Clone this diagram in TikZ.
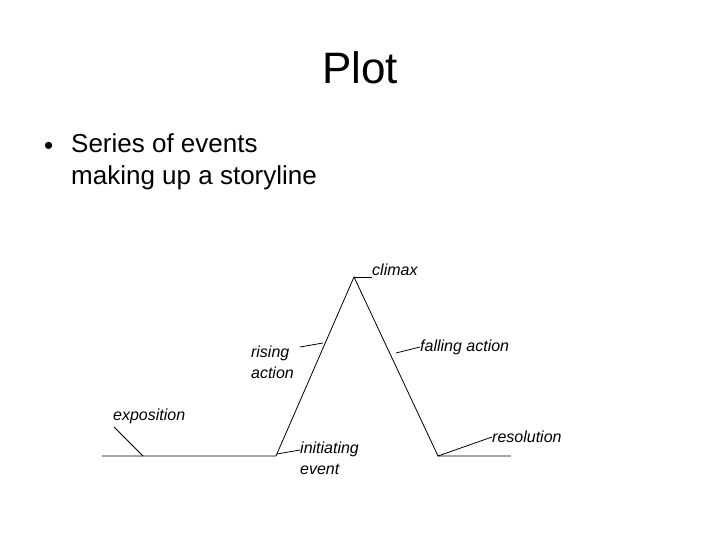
\documentclass[tikz,border=0pt]{standalone}
\usepackage{fontspec}
\setmainfont{Liberation Sans}
\begin{document}
\begin{tikzpicture}[x=1pt,y=-1pt,
  lbl/.style={font=\fontsize{16}{21}\selectfont\itshape,inner sep=0pt},
  ln/.style={line width=0.8pt}]
\useasboundingbox (0,0) rectangle (720,540);
\node[font=\fontsize{44}{50}\selectfont] (title) at (360,68) {Plot};
\node[anchor=west,font=\fontsize{26}{32}\selectfont,inner sep=0pt] (bul) at (44,148) {•};
\node[anchor=north west,align=left,font=\fontsize{26}{32}\selectfont,inner sep=0pt] (txt) at (71,133) {Series of events\\making up a storyline};
\coordinate (a) at (102,456);
\coordinate (b) at (276,456);
\coordinate (c) at (354,277);
\coordinate (d) at (438,456);
\coordinate (e) at (511,456);
\draw[ln] (a) -- (b) -- (c) -- (d) -- (e);
\node[lbl,anchor=west] (climax) at (372,270) {climax};
\draw[ln] (c) -- (climax.west |- c);
\node[lbl,anchor=west] (expo) at (113,416) {exposition};
\coordinate (ex1) at (114,427);
\coordinate (ex2) at (143,456);
\draw[ln] (ex1) -- (ex2);
\node[lbl,anchor=east,align=left] (rising) at (294,362) {rising\\action};
\coordinate (r1) at (300,347);
\coordinate (r2) at (323,343);
\draw[ln] (r1) -- (r2);
\node[lbl,anchor=west] (falling) at (420,347) {falling action};
\coordinate (f1) at (396,353);
\draw[ln] (f1) -- (falling.west);
\node[lbl,anchor=north west,align=left] (init) at (300,442) {initiating\\event};
\coordinate (i1) at (277,454);
\coordinate (i2) at (300,450);
\draw[ln] (i1) -- (i2);
\node[lbl,anchor=west] (res) at (492,437) {resolution};
\draw[ln] (d) -- (res.west);
\end{tikzpicture}
\end{document}
